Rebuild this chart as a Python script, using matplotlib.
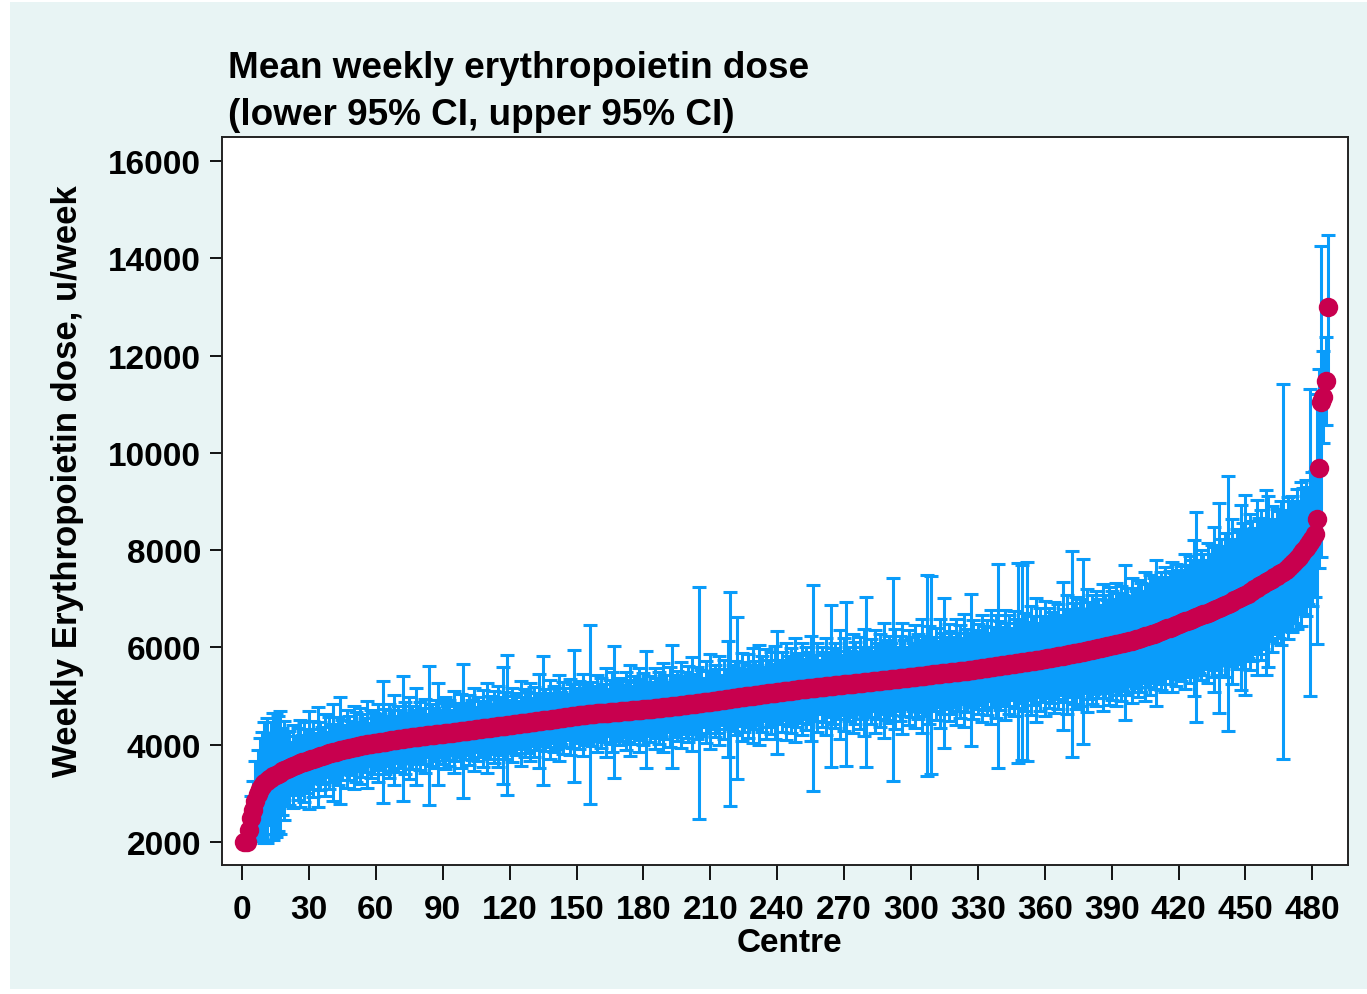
import matplotlib
matplotlib.use("Agg")
import matplotlib.pyplot as plt
from matplotlib.patches import Rectangle

# mean weekly EPO dose per centre, sorted (u/week)
mean_dose = [
    2000, 2010, 2240, 2490, 2650, 2840, 2990, 3090, 3160, 3220,
    3260, 3290, 3320, 3350, 3380, 3400, 3425, 3450, 3470, 3495,
    3515, 3535, 3555, 3575, 3595, 3615, 3635, 3650, 3665, 3685,
    3700, 3715, 3730, 3745, 3760, 3775, 3790, 3805, 3820, 3835,
    3845, 3860, 3870, 3885, 3895, 3905, 3915, 3925, 3935, 3945,
    3955, 3965, 3975, 3985, 3995, 4005, 4012, 4020, 4028, 4035,
    4042, 4050, 4058, 4065, 4072, 4080, 4088, 4095, 4102, 4110,
    4117, 4124, 4130, 4137, 4143, 4150, 4156, 4162, 4168, 4174,
    4180, 4186, 4191, 4197, 4202, 4208, 4213, 4218, 4224, 4229,
    4234, 4240, 4245, 4250, 4256, 4262, 4268, 4274, 4280, 4286,
    4292, 4298, 4304, 4310, 4316, 4322, 4328, 4334, 4340, 4346,
    4352, 4358, 4364, 4370, 4376, 4382, 4388, 4394, 4400, 4406,
    4412, 4418, 4424, 4430, 4436, 4442, 4448, 4454, 4460, 4466,
    4472, 4478, 4485, 4491, 4498, 4504, 4511, 4517, 4524, 4530,
    4537, 4543, 4550, 4556, 4563, 4569, 4576, 4582, 4589, 4596,
    4602, 4609, 4615, 4620, 4625, 4630, 4634, 4638, 4642, 4646,
    4650, 4654, 4658, 4662, 4666, 4670, 4674, 4678, 4682, 4686,
    4690, 4694, 4698, 4702, 4706, 4710, 4714, 4718, 4722, 4726,
    4730, 4734, 4738, 4742, 4746, 4750, 4755, 4760, 4765, 4770,
    4775, 4780, 4786, 4792, 4798, 4804, 4810, 4816, 4822, 4828,
    4834, 4840, 4846, 4852, 4858, 4864, 4870, 4876, 4882, 4888,
    4894, 4900, 4906, 4913, 4920, 4927, 4934, 4941, 4948, 4955,
    4962, 4969, 4975, 4981, 4987, 4993, 4999, 5005, 5011, 5017,
    5023, 5029, 5035, 5041, 5047, 5053, 5059, 5065, 5071, 5077,
    5083, 5089, 5095, 5101, 5107, 5113, 5119, 5125, 5131, 5137,
    5143, 5148, 5153, 5158, 5163, 5168, 5173, 5178, 5183, 5188,
    5193, 5198, 5203, 5208, 5213, 5218, 5223, 5228, 5233, 5238,
    5243, 5248, 5253, 5258, 5263, 5268, 5273, 5278, 5283, 5288,
    5293, 5298, 5303, 5308, 5313, 5318, 5323, 5328, 5333, 5338,
    5343, 5348, 5353, 5358, 5363, 5368, 5373, 5378, 5383, 5388,
    5393, 5398, 5403, 5408, 5414, 5420, 5426, 5432, 5438, 5444,
    5450, 5455, 5460, 5465, 5470, 5475, 5480, 5485, 5490, 5495,
    5500, 5506, 5512, 5518, 5524, 5530, 5536, 5542, 5548, 5555,
    5562, 5569, 5576, 5583, 5590, 5597, 5604, 5611, 5618, 5625,
    5632, 5639, 5646, 5653, 5660, 5667, 5674, 5681, 5688, 5695,
    5702, 5709, 5716, 5723, 5730, 5737, 5744, 5751, 5758, 5766,
    5774, 5782, 5790, 5798, 5806, 5814, 5822, 5830, 5839, 5848,
    5857, 5866, 5875, 5884, 5893, 5902, 5912, 5922, 5932, 5942,
    5952, 5962, 5972, 5982, 5992, 6002, 6012, 6022, 6032, 6042,
    6052, 6062, 6072, 6082, 6092, 6104, 6116, 6128, 6140, 6152,
    6166, 6180, 6195, 6210, 6225, 6240, 6255, 6270, 6285, 6300,
    6318, 6336, 6354, 6372, 6390, 6408, 6426, 6444, 6462, 6480,
    6498, 6516, 6534, 6552, 6570, 6588, 6606, 6624, 6642, 6660,
    6678, 6697, 6716, 6735, 6755, 6775, 6795, 6815, 6835, 6855,
    6877, 6899, 6921, 6943, 6965, 6988, 7011, 7034, 7057, 7080,
    7105, 7135, 7165, 7195, 7225, 7255, 7285, 7310, 7335, 7360,
    7385, 7410, 7440, 7470, 7500, 7530, 7560, 7600, 7640, 7680,
    7720, 7760, 7810, 7860, 7920, 7980, 8040, 8100, 8160, 8230,
    8330, 8640, 9680, 11050, 11150, 11480, 13000,
]

# half width of the 95% CI for each centre
ci_half = [
    50, 100, 250, 450, 600, 820, 900, 1050, 1100, 1240,
    1280, 950, 1150, 1300, 1270, 1180, 1260, 900, 1020, 760,
    760, 520, 860, 600, 740, 900, 560, 820, 660, 1000,
    620, 780, 520, 1030, 700, 580, 840, 460, 740, 600,
    1000, 560, 700, 1100, 620, 500, 800, 660, 560, 860,
    720, 500, 780, 640, 560, 900, 440, 700, 620, 540,
    800, 580, 1260, 660, 520, 760, 620, 920, 480, 680,
    600, 1290, 740, 520, 840, 640, 560, 1000, 500, 700,
    580, 760, 440, 1430, 640, 540, 700, 1050, 480, 620,
    740, 560, 680, 460, 840, 600, 520, 760, 1380, 580,
    500, 720, 620, 860, 460, 660, 580, 800, 540, 920,
    640, 480, 740, 560, 840, 600, 1200, 680, 1440, 520,
    760, 580, 640, 460, 880, 540, 700, 620, 800, 500,
    720, 580, 960, 520, 1330, 640, 560, 820, 480, 680,
    620, 880, 540, 740, 600, 480, 780, 660, 1355, 560,
    700, 520, 840, 620, 580, 1840, 660, 500, 800, 560,
    720, 600, 920, 480, 660, 820, 1350, 560, 680, 620,
    540, 800, 640, 940, 500, 700, 580, 860, 620, 740,
    1200, 560, 680, 500, 840, 620, 740, 580, 920, 660,
    520, 820, 1260, 640, 720, 560, 880, 600, 680, 780,
    620, 960, 560, 740, 2390, 680, 500, 840, 640, 980,
    580, 740, 660, 920, 520, 820, 620, 1200, 2200, 680,
    760, 1665, 600, 900, 720, 560, 860, 640, 980, 700,
    620, 1030, 780, 560, 920, 680, 840, 600, 960, 1270,
    660, 820, 580, 1000, 720, 880, 640, 1060, 760, 700,
    940, 620, 860, 740, 1080, 2120, 680, 920, 560, 820,
    720, 1000, 640, 1660, 780, 880, 700, 1120, 620, 960,
    1690, 760, 680, 1020, 840, 640, 940, 740, 1100, 1750,
    720, 880, 620, 1060, 780, 960, 700, 1180, 820, 900,
    740, 2085, 1020, 660, 880, 1140, 780, 640, 980, 820,
    700, 1060, 880, 740, 1180, 820, 2065, 1000, 2040, 760,
    940, 680, 1120, 840, 1540, 740, 1000, 860, 720, 1080,
    800, 960, 680, 1160, 860, 760, 1560, 1020, 820, 920,
    740, 1100, 860, 980, 700, 1180, 820, 1060, 2100, 920,
    780, 1140, 860, 1020, 740, 1080, 920, 2050, 840, 2000,
    1000, 2050, 800, 1120, 920, 1280, 760, 1060, 880, 1180,
    820, 1020, 940, 1140, 860, 1080, 800, 1520, 960, 1220,
    880, 2125, 1040, 1160, 920, 1100, 1900, 860, 1260, 1000,
    1120, 920, 1180, 1020, 880, 1300, 1060, 960, 1220, 1120,
    940, 1260, 1040, 1180, 980, 1600, 1100, 920, 1280, 1060,
    1000, 1200, 1120, 940, 1320, 1060, 1240, 980, 1140, 1500,
    1040, 1220, 1100, 1280, 1020, 1160, 1340, 1080, 1260, 1120,
    1180, 1060, 1380, 1140, 1300, 1200, 1600, 2150, 1160, 1340,
    1240, 1100, 1440, 1180, 1360, 1700, 1260, 2160, 1400, 1220,
    1480, 2620, 1300, 1700, 1240, 1440, 1360, 1900, 1500, 2050,
    1320, 1600, 1440, 1260, 1800, 1400, 1540, 1340, 1900, 1760,
    1260, 1500, 1160, 1380, 1300, 1480, 3860, 1220, 1460, 1340,
    1400, 1260, 1440, 1160, 1480, 1300, 1400, 1200, 3150, 1380,
    1300, 2570, 2050, 3200, 950, 900, 1480,
]

centre = list(range(1, len(mean_dose) + 1))

x_ticks = list(range(0, 481, 30))
y_ticks = list(range(2000, 16001, 2000))

bar_col = "#0a9cfa"
dot_col = "#c8004e"
bg_col = "#e8f4f4"

plt.rcParams["font.family"] = ["Liberation Sans", "DejaVu Sans"]
plt.rcParams["font.weight"] = "bold"

fig = plt.figure(figsize=(13.67, 9.95), dpi=100)
fig.patch.set_facecolor("white")
fig.patches.append(Rectangle((10 / 1367, 5 / 995), 1 - 10 / 1367, 1 - 8 / 995,
                             transform=fig.transFigure, facecolor=bg_col,
                             edgecolor="none", zorder=-10))

ax = fig.add_axes([222 / 1367, 1 - 866 / 995, 1126 / 1367, 728 / 995])
ax.set_facecolor("white")

ax.errorbar(centre, mean_dose, yerr=ci_half, fmt="none", ecolor=bar_col,
            elinewidth=2.2, capsize=5, capthick=2.2, zorder=2)
ax.plot(centre, mean_dose, "o", ms=14, color=dot_col, mec="none", zorder=3)

ax.set_xlim(-9, 496)
ax.set_ylim(1527, 16493)
ax.set_xticks(x_ticks)
ax.set_yticks(y_ticks)
ax.tick_params(axis="x", length=11, width=1.3, pad=10, labelsize=24)
ax.tick_params(axis="y", length=9, width=1.3, pad=6, labelsize=24)
for lab in ax.get_xticklabels() + ax.get_yticklabels():
    lab.set_fontweight("bold")
for sp in ax.spines.values():
    sp.set_linewidth(1.4)
    sp.set_color("#222222")

fig.text(228 / 1367, 1 - 78 / 995, "Mean weekly erythropoietin dose",
         ha="left", va="baseline", fontsize=26.6, fontweight="bold")
fig.text(228 / 1367, 1 - 125 / 995, "(lower 95% CI, upper 95% CI)",
         ha="left", va="baseline", fontsize=26.6, fontweight="bold")
fig.text(68 / 1367, 1 - 481 / 995, "Weekly Erythropoietin dose, u/week",
         rotation=90, ha="center", va="center", fontsize=25, fontweight="bold")
fig.text(789 / 1367, 1 - 944 / 995, "Centre",
         ha="center", va="center", fontsize=24, fontweight="bold")

fig.savefig("out.png", dpi=100, facecolor=fig.get_facecolor())
